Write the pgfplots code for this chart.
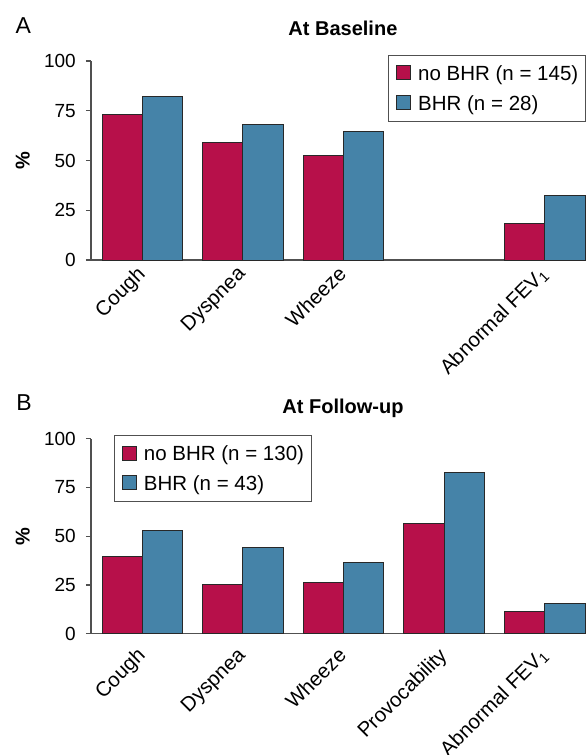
\documentclass[border=0pt]{standalone}
\usepackage{fontspec}
\setmainfont{Liberation Sans}
\usepackage{pgfplots}
\pgfplotsset{compat=1.18}
\definecolor{bred}{RGB}{183,16,74}
\definecolor{bblue}{RGB}{69,131,168}
\definecolor{axgray}{RGB}{80,80,80}
\definecolor{barline}{RGB}{40,40,40}

\pgfplotsset{
  panel/.style={
    scale only axis, width=495bp,
    xmin=0.49, xmax=5.41, ymin=0, ymax=100,
    ytick={0,25,50,75,100},
    axis x line*=bottom, axis y line*=left,
    axis line style={axgray, line width=1.2bp},
    ybar=0pt, bar width=0.4,
    major tick length=5bp,
    tick align=outside,
    ytick style={axgray, line width=1.2bp},
    xtick style={draw=none},
    clip=false,
    /pgf/number format/assume math mode=true,
    yticklabel style={font=\fontsize{19bp}{20bp}\selectfont, inner sep=0pt, xshift=-10bp},
    xticklabel style={font=\fontsize{20.5bp}{22bp}\selectfont, rotate=45, anchor=north east, inner sep=0pt},
    ylabel={\%},
    ylabel style={at={(axis description cs:-0.138,0.5)}, anchor=center, font=\fontsize{20bp}{22bp}\selectfont\bfseries},
    title style={anchor=base, font=\fontsize{20bp}{24bp}\selectfont\bfseries},
    legend cell align=left,
    legend style={draw=axgray, line width=1bp, inner xsep=7.5bp, inner ysep=8bp,
      row sep=8.4bp, font=\fontsize{20.5bp}{24bp}\selectfont,
      nodes={inner sep=0pt, text height=17.5bp, text depth=3.5bp},
      /tikz/every odd column/.append style={column sep=7bp}},
  },
  redbar/.style={fill=bred, draw=barline, line width=0.9bp,
    legend image code/.code={\draw[fill=bred, draw=barline, line width=0.9bp] (0bp,-6bp) rectangle (14bp,8bp);}},
  bluebar/.style={fill=bblue, draw=barline, line width=0.9bp,
    legend image code/.code={\draw[fill=bblue, draw=barline, line width=0.9bp] (0bp,-6bp) rectangle (14bp,8bp);}},
}

\begin{document}
\begin{tikzpicture}
\useasboundingbox (0bp,0bp) rectangle (586bp,755bp);

% Panel A
\begin{axis}[panel, height=199bp, at={(91bp,495bp)}, anchor=south west,
  xtick={1,2,3,5},
  xticklabels={Cough,Dyspnea,Wheeze,Abnormal FEV\textsubscript{1}},
  xticklabel style={xshift=-4.5bp, yshift=5bp},
  title={At Baseline},
  title style={at={(axis description cs:0.509,1.097)}},
  legend style={at={(axis description cs:0.6006,1.0317)}, anchor=north west},
]
\addplot[redbar] coordinates {(1,72.9) (2,59.0) (3,52.6) (5,18.4)};
\addplot[bluebar] coordinates {(1,82.3) (2,68.0) (3,64.5) (5,32.3)};
\legend{no BHR (n = 145), BHR (n = 28)}
\node[anchor=base west, font=\fontsize{23bp}{26bp}\selectfont] at (axis description cs:-0.1596,1.139) {A};
\end{axis}

% Panel B
\begin{axis}[panel, height=195bp, at={(91bp,121.3bp)}, anchor=south west,
  xtick={1,2,3,4,5},
  xticklabels={Cough,Dyspnea,Wheeze,Provocability,Abnormal FEV\textsubscript{1}},
  xticklabel style={xshift=-9.9bp, yshift=-0.4bp},
  title={At Follow-up},
  title style={at={(axis description cs:0.509,1.0995)}},
  legend style={at={(axis description cs:0.0465,1.019)}, anchor=north west},
]
\addplot[redbar] coordinates {(1,39.5) (2,25.1) (3,26.5) (4,56.4) (5,11.5)};
\addplot[bluebar] coordinates {(1,53.0) (2,44.3) (3,36.4) (4,82.9) (5,15.7)};
\legend{no BHR (n = 130), BHR (n = 43)}
\node[anchor=base west, font=\fontsize{23bp}{26bp}\selectfont] at (axis description cs:-0.158,1.147) {B};
\end{axis}
\end{tikzpicture}
\end{document}
